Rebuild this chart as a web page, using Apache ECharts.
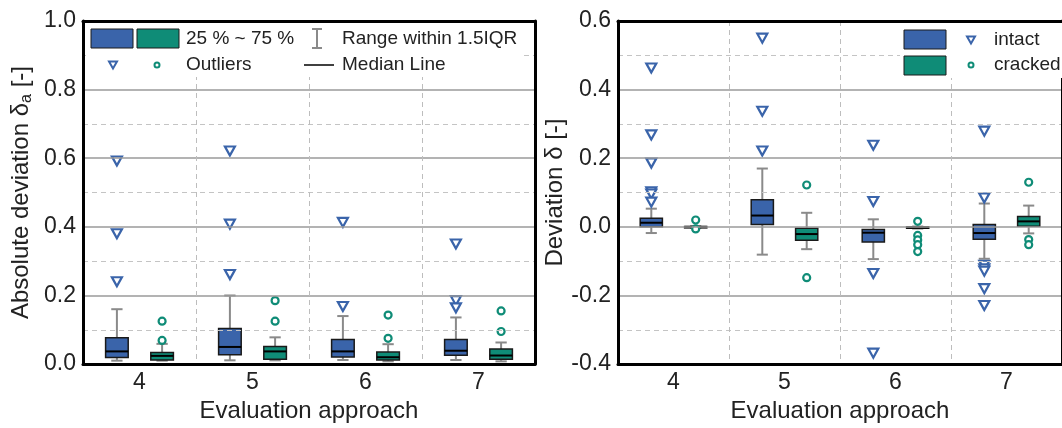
<!DOCTYPE html>
<html>
<head>
<meta charset="utf-8">
<script src="https://cdn.jsdelivr.net/npm/echarts@6/dist/echarts.min.js"></script>
<style>
  html, body { margin: 0; padding: 0; background: #fff; }
  #chart { width: 1062px; height: 428px; }
</style>
</head>
<body>
<div id="chart"></div>
<script>
// categories (evaluation approach)
const cats = [4, 5, 6, 7]
const catLabels = ['4', '5', '6', '7']

// left panel: absolute deviation, boxes = [low whisker, Q1, median, Q3, high whisker]
const absIntactBox = [
  [0.010, 0.019, 0.037, 0.077, 0.160],
  [0.011, 0.027, 0.050, 0.104, 0.200],
  [0.012, 0.021, 0.037, 0.072, 0.140],
  [0.012, 0.026, 0.039, 0.072, 0.136]
]
const absCrackedBox = [
  [0.010, 0.012, 0.024, 0.034, 0.059],
  [0.011, 0.014, 0.037, 0.051, 0.078],
  [0.008, 0.012, 0.020, 0.035, 0.058],
  [0.008, 0.014, 0.025, 0.044, 0.063]
]
const absIntactOut = [[0.592, 0.380, 0.240], [0.621, 0.408, 0.261], [0.413, 0.168], [0.350, 0.185, 0.164]]
const absCrackedOut = [[0.125, 0.069], [0.185, 0.125], [0.143, 0.075], [0.155, 0.095]]

// right panel: deviation
const devIntactBox = [
  [-0.018, 0.000, 0.012, 0.025, 0.053],
  [-0.081, 0.007, 0.033, 0.079, 0.170],
  [-0.094, -0.044, -0.017, -0.008, 0.022],
  [-0.093, -0.036, -0.018, 0.007, 0.068]
]
const devCrackedBox = [
  [-0.003, -0.003, 0.000, 0.001, 0.002],
  [-0.065, -0.039, -0.021, -0.004, 0.041],
  [-0.005, -0.004, -0.002, 0.000, 0.001],
  [-0.019, 0.002, 0.016, 0.030, 0.062]
]
const devIntactOut = [
  [0.463, 0.268, 0.186, 0.102, 0.096, 0.072],
  [0.550, 0.337, 0.221],
  [0.238, 0.074, -0.136, -0.368],
  [0.279, 0.084, -0.112, -0.122, -0.129, -0.180, -0.229]
]
const devCrackedOut = [
  [0.020, -0.006],
  [0.122, -0.148],
  [0.016, -0.025, -0.038, -0.052, -0.072],
  [0.130, -0.037, -0.052]
]

const absTicks = { min: 0, max: 1, interval: 0.2 }
const devTicks = { min: -0.4, max: 0.6, interval: 0.2 }

const BLUE = '#3a64aa'
const GREEN = '#0f8c77'
const FONT = 'Liberation Sans'
const OFF = 0.2   // offset of the two boxes from the category centre
const BOXW = 0.2  // box width in category units

function fmt(v) {
  if (Math.abs(v) < 1e-9) v = 0
  return v.toFixed(1)
}

function boxSeries(xi, yi, boxes, offset, color) {
  return {
    type: 'custom',
    xAxisIndex: xi,
    yAxisIndex: yi,
    z: 3,
    data: boxes.map((b, i) => [cats[i] + offset].concat(b)),
    encode: { x: 0, y: [1, 2, 3, 4, 5] },
    renderItem(params, api) {
      const x = api.value(0)
      const lo = api.coord([x, api.value(1)])
      const q1 = api.coord([x, api.value(2)])
      const md = api.coord([x, api.value(3)])
      const q3 = api.coord([x, api.value(4)])
      const hi = api.coord([x, api.value(5)])
      const w = api.size([BOXW, 0])[0]
      const c = w / 4
      const px = lo[0]
      const grey = { stroke: '#8a8a8a', lineWidth: 2 }
      return {
        type: 'group',
        children: [
          { type: 'line', shape: { x1: px, y1: lo[1], x2: px, y2: hi[1] }, style: grey },
          { type: 'line', shape: { x1: px - c, y1: lo[1], x2: px + c, y2: lo[1] }, style: grey },
          { type: 'line', shape: { x1: px - c, y1: hi[1], x2: px + c, y2: hi[1] }, style: grey },
          { type: 'rect', shape: { x: px - w / 2, y: q3[1], width: w, height: Math.max(q1[1] - q3[1], 1) },
            style: { fill: color, stroke: '#1a1a1a', lineWidth: 1.5 } },
          { type: 'line', shape: { x1: px - w / 2, y1: md[1], x2: px + w / 2, y2: md[1] },
            style: { stroke: '#000', lineWidth: 2 } }
        ]
      }
    }
  }
}

function outSeries(xi, yi, outs, offset, kind) {
  const pts = []
  outs.forEach((arr, i) => arr.forEach(v => pts.push([cats[i] + offset, v])))
  const tri = kind === 'tri'
  return {
    type: 'scatter',
    xAxisIndex: xi,
    yAxisIndex: yi,
    z: 4,
    data: pts,
    symbol: tri ? 'triangle' : 'circle',
    symbolRotate: tri ? 180 : 0,
    symbolSize: tri ? [10, 9] : 7,
    itemStyle: { color: '#fff', borderColor: tri ? BLUE : GREEN, borderWidth: 2.2, opacity: 1 }
  }
}

const border = { show: true, onZero: false, lineStyle: { color: '#000', width: 3 } }

function catAxis(gi) {
  return {
    type: 'category', gridIndex: gi, position: 'bottom', data: catLabels,
    axisLine: border, axisTick: { show: false }, z: 10,
    axisLabel: { fontSize: 23, color: '#222', fontFamily: FONT, margin: 7 },
    splitLine: { show: true, lineStyle: { color: '#bdbdbd', type: [5, 4], width: 1 } },
    name: 'Evaluation approach', nameLocation: 'middle', nameGap: 33,
    nameTextStyle: { fontSize: 24, color: '#222', fontFamily: FONT }
  }
}
function valXAxis(gi) {
  return {
    type: 'value', gridIndex: gi, position: 'top', min: 3.5, max: 7.5, z: 10,
    axisLine: border, axisTick: { show: false }, axisLabel: { show: false }, splitLine: { show: false }
  }
}
function yAxis(gi, t, name, gap) {
  return {
    type: 'value', gridIndex: gi, position: 'left', min: t.min, max: t.max, interval: t.interval, z: 10,
    axisLine: border, axisTick: { show: false },
    axisLabel: { fontSize: 23, color: '#222', fontFamily: FONT, margin: 7, formatter: fmt },
    splitLine: { show: true, lineStyle: { color: '#9a9a9a', width: 1.5 } },
    minorTick: { show: false, splitNumber: 2 },
    minorSplitLine: { show: true, lineStyle: { color: '#c4c4c4', type: [5, 4], width: 1 } },
    name: name, nameLocation: 'middle', nameGap: gap,
    nameTextStyle: {
      fontSize: 24, color: '#222', fontFamily: FONT,
      rich: { sub: { fontSize: 16, color: '#222', fontFamily: FONT, verticalAlign: 'bottom', padding: [11, 0, 0, 0] } }
    }
  }
}
function yRight(gi, t) {
  return {
    type: 'value', gridIndex: gi, position: 'right', min: t.min, max: t.max, interval: t.interval, z: 10,
    axisLine: border, axisTick: { show: false }, axisLabel: { show: false }, splitLine: { show: false }
  }
}

const txt = (x, y, s) => ({
  type: 'text', x: x, y: y, z: 30,
  style: { text: s, fontSize: 19, fill: '#222', fontFamily: FONT, verticalAlign: 'middle' }
})
const patch = (x, y, c) => ({
  type: 'rect', z: 30, shape: { x: x, y: y, width: 42, height: 19 },
  style: { fill: c, stroke: '#1a1a1a', lineWidth: 1 }
})
const triMark = (x, y) => ({
  type: 'polygon', z: 30, shape: { points: [[x - 4, y - 3.5], [x + 4, y - 3.5], [x, y + 3.5]] },
  style: { fill: '#fff', stroke: BLUE, lineWidth: 2 }
})
const cirMark = (x, y) => ({
  type: 'circle', z: 30, shape: { cx: x, cy: y, r: 2.5 },
  style: { fill: '#fff', stroke: GREEN, lineWidth: 2 }
})
const gline = (x1, y1, x2, y2, c, w) => ({
  type: 'line', z: 30, shape: { x1: x1, y1: y1, x2: x2, y2: y2 }, style: { stroke: c, lineWidth: w }
})

const chart = echarts.init(document.getElementById('chart'))
chart.setOption({
  animation: false,
  backgroundColor: '#fff',
  grid: [
    { left: 83, top: 21, width: 452, height: 345 },
    { left: 618, top: 21, width: 451, height: 345 }
  ],
  xAxis: [catAxis(0), valXAxis(0), catAxis(1), valXAxis(1)],
  yAxis: [
    yAxis(0, absTicks, 'Absolute deviation δ{sub|a} [-]', 48),
    yRight(0, absTicks),
    yAxis(1, devTicks, 'Deviation δ [-]', 49),
    yRight(1, devTicks)
  ],
  series: [
    boxSeries(1, 0, absIntactBox, -OFF, BLUE),
    boxSeries(1, 0, absCrackedBox, OFF, GREEN),
    outSeries(1, 0, absIntactOut, -OFF, 'tri'),
    outSeries(1, 0, absCrackedOut, OFF, 'cir'),
    boxSeries(3, 2, devIntactBox, -OFF, BLUE),
    boxSeries(3, 2, devCrackedBox, OFF, GREEN),
    outSeries(3, 2, devIntactOut, -OFF, 'tri'),
    outSeries(3, 2, devCrackedOut, OFF, 'cir')
  ],
  graphic: [
    // left legend
    { type: 'rect', z: 29, shape: { x: 86, y: 23, width: 438, height: 54 }, style: { fill: '#fff' } },
    patch(91, 29, BLUE), patch(137, 29, GREEN),
    txt(186, 39, '25 % ~ 75 %'),
    gline(317, 29, 317, 48, '#8a8a8a', 2),
    gline(312, 29, 322, 29, '#8a8a8a', 2),
    gline(312, 48, 322, 48, '#8a8a8a', 2),
    txt(342, 39, 'Range within 1.5IQR'),
    triMark(113, 65), cirMark(157, 65),
    txt(186, 65, 'Outliers'),
    gline(304, 65, 334, 65, '#000', 1.5),
    txt(342, 65, 'Median Line'),
    // right legend
    { type: 'rect', z: 29, shape: { x: 900, y: 23, width: 170, height: 55 }, style: { fill: '#fff' } },
    patch(904, 30, BLUE), patch(904, 56, GREEN),
    triMark(971, 40), cirMark(971, 65),
    txt(994, 40, 'intact'), txt(994, 65, 'cracked')
  ]
})
</script>
</body>
</html>
